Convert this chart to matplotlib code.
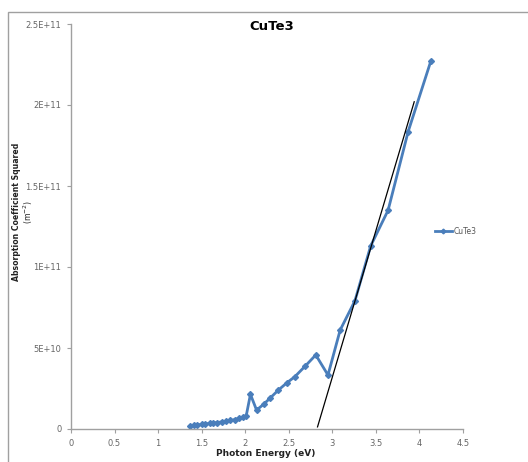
import matplotlib
matplotlib.use("Agg")
import matplotlib.pyplot as plt
from matplotlib.patches import Rectangle

# Data
energy = [1.37, 1.41, 1.45, 1.50, 1.54, 1.59, 1.63, 1.68, 1.73, 1.78, 1.83, 1.88, 1.93, 1.97, 2.01,
          2.06, 2.13, 2.21, 2.29, 2.38, 2.48, 2.57, 2.69, 2.81, 2.95, 3.09, 3.26, 3.44, 3.64, 3.87, 4.13]
alpha_sq = [1.8e9, 2.2e9, 2.5e9, 2.8e9, 3.1e9, 3.4e9, 3.7e9, 4.0e9, 4.4e9, 4.8e9, 5.3e9, 5.8e9, 6.5e9, 7.2e9, 7.8e9,
            2.14e10, 1.17e10, 1.52e10, 1.93e10, 2.40e10, 2.86e10, 3.23e10, 3.89e10, 4.57e10, 3.33e10, 6.11e10,
            7.92e10, 1.13e11, 1.35e11, 1.835e11, 2.27e11]
fit_x = [2.83, 3.94]
fit_y = [1.3e9, 2.02e11]

xticks = [0, 0.5, 1, 1.5, 2, 2.5, 3, 3.5, 4, 4.5]
xticklabels = ["0", "0.5", "1", "1.5", "2", "2.5", "3", "3.5", "4", "4.5"]
yticks = [0, 5e10, 1e11, 1.5e11, 2e11, 2.5e11]
yticklabels = ["0", "5E+10", "1E+11", "1.5E+11", "2E+11", "2.5E+11"]

blue = "#4A7EBB"

fig = plt.figure(figsize=(5.28, 4.62), dpi=100)
# chart area border
fig.patches.append(Rectangle((8/528, -0.1), 1.2, 1 - 12/462 + 0.1, transform=fig.transFigure,
                             fill=False, edgecolor="#A0A0A0", linewidth=1.0))

ax = fig.add_axes([71/528, 1 - 429/462, (463 - 71)/528, (429 - 24)/462])
ax.plot(energy, alpha_sq, color=blue, linewidth=2.0, marker="D", markersize=3,
        markerfacecolor=blue, markeredgecolor=blue, label="CuTe3")
ax.plot(fit_x, fit_y, color="black", linewidth=0.9)

ax.set_xlim(0, 4.5)
ax.set_ylim(0, 2.5e11)
ax.set_xticks(xticks)
ax.set_xticklabels(xticklabels)
ax.set_yticks(yticks)
ax.set_yticklabels(yticklabels)
for s in ["top", "right"]:
    ax.spines[s].set_visible(False)
for s in ["left", "bottom"]:
    ax.spines[s].set_color("#A0A0A0")
    ax.spines[s].set_linewidth(1.0)
ax.tick_params(axis="both", direction="out", length=3, width=0.8, color="#A0A0A0",
               labelsize=6, labelcolor="#666666", pad=4)

fig.text(272/528, 1 - 26/462, "CuTe3", ha="center", va="center", fontsize=9.5, fontweight="bold")
fig.text(266/528, 1 - 453/462, "Photon Energy (eV)", ha="center", va="center", fontsize=6.5,
         fontweight="bold", color="#222222")
fig.text(17/528, 1 - 212/462, "Absorption Coefficient Squared", rotation=90, ha="center", va="center",
         fontsize=6.2, fontweight="bold", fontstretch="condensed",
         family=["DejaVu Sans"], color="#222222")
fig.text(28/528, 1 - 212/462, "(m$^{-2}$)", rotation=90, ha="center", va="center",
         fontsize=6.2, fontstretch="condensed", family=["DejaVu Sans"], color="#222222")

leg = ax.legend(loc="center left", bbox_to_anchor=(428/528, 1 - 231/462), bbox_transform=fig.transFigure,
                frameon=False, fontsize=5.5, handlelength=2.2, handletextpad=0.3, markerscale=0.8)
for t in leg.get_texts():
    t.set_color("#555555")

fig.savefig("out.png", dpi=100)
